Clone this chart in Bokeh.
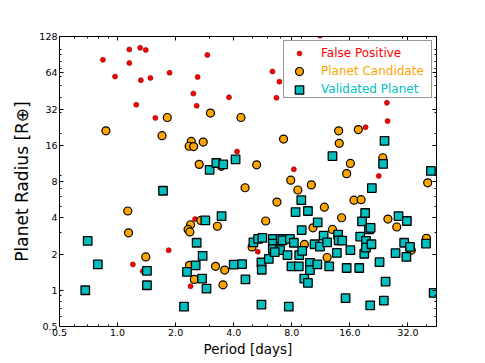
from bokeh.plotting import figure
from bokeh.models import Range1d, FixedTicker, LogAxis, Legend, LegendItem
from bokeh.embed import file_html
from bokeh.resources import INLINE

# ---- data ----
fp_period = [0.84, 1.15, 1.31, 1.40, 1.15, 0.97, 1.32, 1.48, 1.86, 2.92, 2.60, 2.47, 2.57, 1.25, 1.57,
             3.78, 4.16, 8.2, 6.35, 6.9, 6.66, 11.2, 24.9, 25.1, 19.3, 22.6, 2.52, 1.84, 1.20, 1.35,
             2.39, 5.33]
fp_radius = [82, 100, 103, 99, 77, 59.5, 55.5, 58, 64, 90, 59, 43, 34, 34.7, 27,
             40, 14.2, 10.1, 65.5, 54, 39.6, 130, 36, 25.4, 22.6, 8.9, 3.9, 2.15, 1.64, 1.44,
             1.08, 2.09]

pc_period = [0.87, 1.70, 1.81, 3.03, 4.36, 2.41, 2.35, 2.48, 2.78, 2.65, 3.45, 5.26, 4.58, 7.25, 7.9,
             8.6, 10.1, 6.7, 11.8, 14.0, 14.1, 17.7, 16.1, 15.4, 16.8, 18.3, 23.7, 40.5, 14.5, 25.2,
             28.0, 13.0, 10.3, 9.3, 12.2, 39.9, 33.3, 1.13, 1.14, 2.39, 2.32, 2.37, 2.70, 3.29, 1.40,
             2.36, 2.50, 3.22, 3.59, 3.52, 4.98, 5.86]
pc_radius = [21.1, 19.2, 27.2, 29.6, 27.2, 17.2, 15.7, 15.6, 17.0, 11.1, 10.7, 11.0, 7.1, 18.0, 8.2,
             6.8, 7.5, 5.4, 4.9, 21.1, 16.6, 21.6, 11.3, 9.3, 5.6, 5.65, 12.6, 7.8, 4.0, 3.9,
             3.35, 3.2, 3.3, 2.4, 1.87, 2.7, 2.15, 4.55, 3.0, 3.5, 3.2, 3.05, 3.8, 3.4, 1.89,
             1.61, 1.23, 1.58, 1.47, 1.11, 2.29, 3.76]

vp_period = [0.68, 0.70, 0.79, 1.42, 1.42, 1.72, 2.21, 2.29, 2.54, 2.57, 2.76, 2.74, 2.89, 2.85, 3.46,
             3.0, 3.25, 3.53, 4.09, 4.0, 4.42, 4.6, 5.06, 5.35, 5.63, 5.57, 5.59, 5.57, 6.08, 6.38,
             6.38, 6.38, 7.0, 7.16, 6.96, 6.53, 7.6, 7.72, 7.82, 8.2, 7.97, 8.7, 8.74, 9.06, 9.0,
             8.96, 8.37, 9.7, 9.28, 9.7, 9.94, 9.94, 10.85, 10.5, 10.9, 11.2, 11.7, 12.2, 12.5, 13.0,
             13.7, 13.9, 14.0, 14.6, 15.4, 15.2, 16.1, 17.9, 18.1, 18.5, 19.2, 19.0, 19.4, 19.4, 20.1,
             20.5, 20.4, 20.7, 20.8, 22.8, 23.8, 24.2, 24.0, 24.5, 27.6, 28.6, 30.6, 31.6, 31.4, 32.8,
             39.7, 42.1, 43.5]
vp_radius = [1.0, 2.57, 1.64, 1.45, 1.10, 6.7, 0.73, 1.42, 1.61, 2.48, 1.93, 1.25, 1.03, 3.8, 4.13,
             10.0, 11.4, 11.1, 12.2, 1.63, 1.65, 1.23, 2.5, 2.67, 2.72, 1.70, 1.48, 0.76, 1.82, 2.67,
             2.44, 2.2, 2.67, 2.6, 2.15, 2.07, 1.96, 0.73, 2.67, 2.48, 1.58, 1.58, 1.96, 2.12, 3.16,
             5.6, 4.46, 4.55, 1.25, 1.15, 1.69, 1.47, 1.64, 2.41, 3.66, 2.3, 2.84, 2.5, 1.58, 13.0,
             2.04, 2.9, 2.6, 2.58, 1.53, 0.86, 2.15, 1.53, 2.79, 3.73, 4.38, 2.01, 2.57, 2.26, 3.2,
             3.3, 0.75, 2.41, 7.06, 1.71, 11.2, 17.4, 0.82, 1.18, 2.03, 4.13, 2.48, 3.76, 1.89, 2.29,
             2.44, 9.8, 0.95]

x_ticks = [0.5, 1, 2, 4, 8, 16, 32]
x_tick_labels = ["0.5", "1.0", "2.0", "4.0", "8.0", "16.0", "32.0"]
x_minor = [0.6, 0.7, 0.8, 0.9, 2, 3, 4, 5, 6, 7, 8, 9, 20, 30, 40]
y_ticks = [0.5, 1, 2, 4, 8, 16, 32, 64, 128]
y_tick_labels = ["0.5", "1", "2", "4", "8", "16", "32", "64", "128"]
y_minor = [0.6, 0.7, 0.8, 0.9, 2, 3, 4, 5, 6, 7, 8, 9, 20, 30, 40, 50, 60, 70, 80, 90, 100]

series_names = ["False Positive", "Planet Candidate", "Validated Planet"]
series_colors = ["#ff0000", "#ffa500", "#00bfbf"]

FONT = "DejaVu Sans"

p = figure(width=485, height=363,
           x_axis_type="log", y_axis_type="log",
           x_range=Range1d(0.5, 45), y_range=Range1d(0.5, 128),
           output_backend="svg", toolbar_location=None,
           min_border_left=59, min_border_right=49, min_border_top=36, min_border_bottom=37)
p.xgrid.visible = False
p.ygrid.visible = False
p.outline_line_color = "black"
p.outline_line_width = 1
p.background_fill_color = "white"
p.border_fill_color = "white"


def style_axis(ax, ticks, minor, labels, show_labels):
    ax.ticker = FixedTicker(ticks=ticks, minor_ticks=minor)
    if show_labels:
        ax.major_label_overrides = {t: l for t, l in zip(ticks, labels)}
    else:
        ax.major_label_overrides = {t: "" for t in ticks}
    ax.major_tick_in = 4
    ax.major_tick_out = 0
    ax.minor_tick_in = 2
    ax.minor_tick_out = 0
    ax.major_tick_line_color = "black"
    ax.minor_tick_line_color = "black"
    ax.axis_line_color = "black"
    ax.major_label_text_font = FONT
    ax.major_label_text_font_size = "9.5px"
    ax.major_label_text_color = "black"
    ax.major_label_standoff = 2


xa = p.xaxis[0]
ya = p.yaxis[0]
style_axis(xa, x_ticks, x_minor, x_tick_labels, True)
style_axis(ya, y_ticks, y_minor, y_tick_labels, True)
xa.axis_label = "Period [days]"
xa.axis_label_text_font = FONT
xa.axis_label_text_font_size = "13.5px"
xa.axis_label_text_font_style = "normal"
xa.axis_label_text_color = "black"
xa.axis_label_standoff = 2
ya.axis_label = "Planet Radius [R⊕]"
ya.axis_label_text_font = FONT
ya.axis_label_text_font_size = "17px"
ya.axis_label_text_font_style = "normal"
ya.axis_label_text_color = "black"
ya.axis_label_standoff = 4

top = LogAxis()
style_axis(top, x_ticks, x_minor, x_tick_labels, False)
p.add_layout(top, "above")
right = LogAxis()
style_axis(right, y_ticks, y_minor, y_tick_labels, False)
p.add_layout(right, "right")

r_fp = p.scatter(fp_period, fp_radius, marker="circle", size=5,
                 fill_color=series_colors[0], line_color="#7a0000", line_width=0.6)
r_pc = p.scatter(pc_period, pc_radius, marker="circle", size=8,
                 fill_color=series_colors[1], line_color="black", line_width=1.2)
r_vp = p.scatter(vp_period, vp_radius, marker="square", size=8.5,
                 fill_color=series_colors[2], line_color="black", line_width=1.3)
r_dummy = p.scatter([1], [1], marker="circle", size=1, fill_alpha=0, line_alpha=0)

base = dict(padding=1, spacing=0, label_width=107, label_text_font=FONT,
            label_text_font_size="12px", margin=0)

outer = Legend(items=[LegendItem(label=" ", renderers=[r_dummy]) for _ in range(3)],
               location=(224, 228), border_line_color="#333333", border_line_width=1,
               background_fill_color="white", background_fill_alpha=1.0,
               label_text_alpha=0, label_height=18, glyph_height=18, glyph_width=32,
               label_standoff=6, **base)
p.add_layout(outer, "center")

# one single-item legend per row (each label in its own colour)
glyph_x_center = 241   # glyph centre, px from frame left
text_x_start = 263     # text start, px from frame left
row_centers = [274, 256, 238]   # px from frame bottom
glyph_boxes = [(12, 18), (20, 20), (22, 21)]   # (glyph_width, row height)

for name, col, r, yc, (gw, gh) in zip(series_names, series_colors, [r_fp, r_pc, r_vp],
                                       row_centers, glyph_boxes):
    left = glyph_x_center - 1 - gw / 2
    standoff = int(round(text_x_start - (left + 1 + gw)))
    bottom = yc - gh / 2 - 1
    lg = Legend(items=[LegendItem(label=name, renderers=[r])],
                location=(left, bottom), border_line_color=None,
                background_fill_alpha=0, label_text_color=col,
                glyph_width=gw, glyph_height=gh, label_height=gh,
                label_standoff=standoff, **base)
    p.add_layout(lg, "center")

open("out.html", "w").write(file_html(p, INLINE))
